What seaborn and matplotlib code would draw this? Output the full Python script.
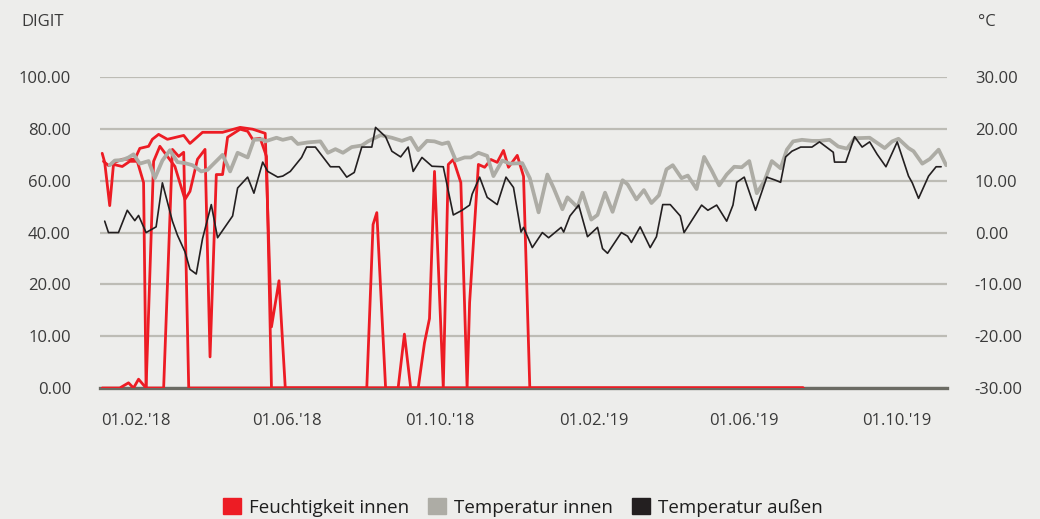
import numpy as np
import pandas as pd
import matplotlib
matplotlib.use('Agg')
import matplotlib.pyplot as plt
import matplotlib.dates as mdates
from matplotlib.patches import Patch
from matplotlib.ticker import FixedLocator, FormatStrFormatter
import seaborn as sns

START = pd.Timestamp('2018-01-01')

# Feuchtigkeit innen (DIGIT) - three sensor traces, one legend entry
# x values are days since 2018-01-01
hum_a_day = [4, 18, 25, 29, 33, 39, 45, 50, 56, 62, 70, 74, 80, 86, 90, 95, 100, 104,
             114, 120, 124, 130, 135, 139, 563]
hum_a_val = [0, 0, 1.0, 0, 1.7, 0, 67.5, 73.3, 69.4, 65.5, 52.8, 55.9, 68.3, 72.1, 6.0, 62.4, 62.4, 76.8,
             79.9, 79.1, 76.0, 76.4, 69.4, 0, 0]

hum_b_day = [4, 6, 10, 13, 20, 26, 32, 37, 39, 53, 60, 65, 69, 73, 563]
hum_b_val = [70.6, 67.1, 50.4, 66.3, 65.5, 67.5, 67.5, 59.3, 0, 0, 72.1, 69.4, 71.0, 0, 0]

hum_c_day = [5, 9, 16, 20, 26, 30, 34, 41, 44, 49, 56, 69, 74, 84, 100, 114, 124, 134, 139, 145,
             150, 215, 220, 223, 230, 240, 245, 250, 256, 261, 265, 269, 276, 280, 284, 290, 295, 297,
             304, 309, 314, 319, 324, 328, 335, 340, 345, 563]
hum_c_val = [67.5, 65.9, 67.5, 68.3, 68.3, 68.3, 72.5, 73.3, 76.0, 77.9, 76.0, 77.5, 74.4, 78.7, 78.7, 80.6,
             79.9, 78.3, 11.8, 21.4, 0, 0, 43.1, 47.7, 0, 0, 10.4, 0, 0, 8.7, 13.4, 63.6, 0, 66.3, 68.2,
             59.3, 0, 16.5, 66.3, 65.2, 68.2, 67.1, 71.7, 65.2, 69.8, 61.7, 0, 0]

# Temperatur innen (°C)
t_in_day = [10, 14, 20, 25, 29, 34, 41, 46, 52, 58, 64, 70, 76, 83, 88, 100, 106, 112, 120, 125,
            132, 134, 143, 148, 155, 160, 168, 178, 184, 190, 196, 203, 211, 216, 226, 235, 243, 250,
            256, 263, 269, 275, 280, 286, 293, 298, 304, 311, 316, 323, 329, 339, 345, 352, 359, 364,
            371, 375, 383, 387, 394, 399, 405, 411, 419, 423, 430, 436, 442, 448, 454, 459, 466, 471,
            478, 484, 490, 496, 502, 508, 514, 520, 526, 532, 538, 545, 550, 555, 562, 570, 576, 584,
            591, 598, 604, 616, 622, 628, 634, 639, 647, 651, 658, 664, 671, 677]
t_in_val = [13.0, 13.9, 14.0, 14.5, 15.1, 13.3, 13.8, 10.5, 13.9, 15.9, 13.6, 13.4, 13.0, 11.8, 12.1,
            15.0, 11.8, 15.4, 14.5, 17.9, 18.0, 17.6, 18.3, 17.9, 18.3, 17.1, 17.4, 17.6, 15.4, 16.1,
            15.4, 16.5, 16.8, 17.6, 18.8, 18.3, 17.7, 18.3, 15.9, 17.7, 17.6, 17.1, 17.4, 13.9, 14.5,
            14.5, 15.4, 14.8, 10.9, 13.9, 13.3, 13.4, 10.5, 3.9, 11.2, 8.6, 4.5, 6.8, 4.9, 7.7, 2.5,
            3.4, 7.7, 4.0, 10.1, 9.3, 6.4, 8.2, 5.7, 7.2, 12.2, 13.0, 10.5, 11.0, 8.4, 14.6, 12.0, 9.1,
            11.2, 12.7, 12.6, 13.8, 7.6, 9.9, 13.8, 12.4, 16.0, 17.6, 17.9, 17.7, 17.7, 17.9, 16.6,
            16.2, 18.2, 18.3, 17.3, 16.3, 17.6, 18.1, 16.3, 15.7, 13.3, 14.2, 16.0, 13.0]

# Temperatur außen (°C)
t_out_day = [6, 9, 17, 24, 30, 33, 39, 47, 52, 60, 64, 70, 74, 79, 84, 91, 96, 108, 112, 120, 125,
             132, 134, 136, 144, 148, 154, 163, 167, 174, 186, 193, 199, 205, 211, 219, 222, 230, 235,
             242, 248, 252, 259, 267, 276, 284, 291, 297, 299, 305, 311, 319, 326, 332, 338, 340, 347,
             355, 360, 370, 372, 377, 384, 391, 399, 403, 407, 418, 423, 426, 433, 441, 446, 451, 457,
             465, 468, 482, 487, 494, 502, 507, 510, 516, 525, 534, 541, 545, 549, 554, 561, 570, 576,
             587, 588, 597, 604, 610, 616, 622, 629, 638, 647, 650, 655, 663, 669, 673]
t_out_val = [2.2, 0, 0, 4.3, 2.3, 3.3, 0, 1.1, 9.6, 2.2, -0.5, -3.7, -7.1, -8.0, -1.2, 5.4, -1.0, 3.2,
             8.6, 10.7, 7.6, 13.6, 12.7, 11.8, 10.7, 10.9, 11.8, 14.5, 16.5, 16.5, 12.7, 12.7, 10.7,
             11.6, 16.5, 16.5, 20.3, 18.5, 15.7, 14.6, 16.5, 11.8, 14.5, 12.8, 12.7, 3.4, 4.3, 5.3, 7.4,
             10.7, 6.8, 5.4, 10.7, 8.7, 0.1, 1.0, -2.9, 0, -1.0, 1.0, 0.1, 3.2, 5.3, -0.8, 1.0, -3.1,
             -4.0, 0, -0.7, -1.9, 1.1, -2.9, -0.8, 5.4, 5.4, 3.2, 0, 5.3, 4.3, 5.3, 2.2, 5.3, 9.7, 10.7,
             4.3, 10.7, 10.1, 9.7, 14.6, 15.7, 16.5, 16.5, 17.5, 15.5, 13.6, 13.6, 18.5, 16.5, 17.5,
             15.1, 12.7, 17.5, 10.9, 9.6, 6.6, 10.9, 12.7, 12.7]

left_levels = [0, 10, 20, 40, 60, 80, 100]
right_levels = [-30, -20, -10, 0, 10, 20, 30]
tick_dates = ['2018-02-01', '2018-06-01', '2018-10-01', '2019-02-01', '2019-06-01', '2019-10-01']

BG = '#ededeb'
RED = '#ed1c24'
GRAY = '#adaca5'
BLACK = '#231f20'
GRID = '#bdbcb5'
TEXT = '#3a3a3a'


def to_dates(days):
    return START + pd.to_timedelta(days, unit='D')


# the DIGIT axis has evenly spaced gridlines for uneven steps
_lv = [-10] + left_levels + [120]
_ps = list(range(-1, len(left_levels) + 1))


def fwd(v):
    return np.interp(v, _lv, _ps)


def inv(p):
    return np.interp(p, _ps, _lv)


sns.set_style('white', {'axes.facecolor': BG, 'figure.facecolor': BG})
plt.rcParams['font.family'] = ['Open Sans', 'DejaVu Sans']
plt.rcParams['axes.unicode_minus'] = False

fig = plt.figure(figsize=(10.4, 5.19), dpi=100)
ax = fig.add_axes([0.0962, 0.2524, 0.8144, 0.599])
ax2 = ax.twinx()

for d, v in [(hum_a_day, hum_a_val), (hum_b_day, hum_b_val), (hum_c_day, hum_c_val)]:
    sns.lineplot(x=to_dates(d), y=v, ax=ax, color=RED, lw=2.0, legend=False, zorder=3)

sns.lineplot(x=to_dates(t_in_day), y=t_in_val, ax=ax2, color=GRAY, lw=2.7, legend=False)
sns.lineplot(x=to_dates(t_out_day), y=t_out_val, ax=ax2, color=BLACK, lw=1.2, legend=False)

ax.set_yscale('function', functions=(fwd, inv))
ax.set_ylim(0, 100)
ax2.set_ylim(-30, 30)
ax.set_xlim(pd.Timestamp('2018-01-03 07:00'), pd.Timestamp('2019-11-09 17:00'))

ax.yaxis.set_major_locator(FixedLocator(left_levels))
ax.yaxis.set_minor_locator(FixedLocator([]))
ax.yaxis.set_major_formatter(FormatStrFormatter('%.2f'))
ax2.yaxis.set_major_locator(FixedLocator(right_levels))
ax2.yaxis.set_major_formatter(FormatStrFormatter('%.2f'))

ax.xaxis.set_major_locator(FixedLocator(mdates.date2num(pd.to_datetime(tick_dates))))
ax.xaxis.set_major_formatter(mdates.DateFormatter("%d.%m.'%y"))

ax.grid(axis='y', color=GRID, lw=1.6, zorder=0)
ax.set_axisbelow(True)
ax.set_xlabel('')
ax.set_ylabel('')
ax2.set_ylabel('')

for s in ['top', 'left', 'right']:
    ax.spines[s].set_visible(False)
for s in ax2.spines.values():
    s.set_visible(False)
ax.spines['bottom'].set_color('#6b6b63')
ax.spines['bottom'].set_linewidth(2.4)
ax.spines['bottom'].set_zorder(2)

ax.tick_params(axis='y', length=0, pad=21, labelsize=12, labelcolor=TEXT)
ax2.tick_params(axis='y', length=0, pad=20, labelsize=12, labelcolor=TEXT)
ax.tick_params(axis='x', length=0, pad=18, labelsize=12, labelcolor=TEXT)

fig.text(0.0205, 0.958, 'DIGIT', fontsize=12, color=TEXT, va='center', ha='left')
fig.text(0.940, 0.958, '°C', fontsize=12, color=TEXT, va='center', ha='left')

handles = [Patch(color=RED), Patch(color=GRAY), Patch(color=BLACK)]
labels = ['Feuchtigkeit innen', 'Temperatur innen', 'Temperatur außen']
fig.legend(handles, labels, loc='center', bbox_to_anchor=(0.503, 0.022), ncol=3, frameon=False,
           handlelength=0.95, handleheight=0.95, handletextpad=0.45, columnspacing=1.0,
           fontsize=13.5, labelcolor='#1e1e1e')

fig.savefig('out.png', dpi=100, facecolor=BG)
plt.close(fig)
